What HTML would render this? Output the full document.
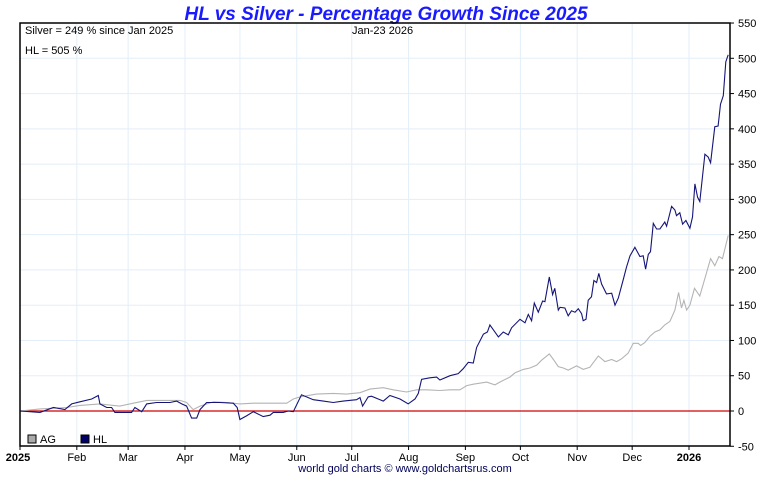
<!DOCTYPE html>
<html><head><meta charset="utf-8"><style>
body{margin:0;background:#fff;font-family:"Liberation Sans",sans-serif}
svg text{font-family:"Liberation Sans",sans-serif}
</style></head><body>
<svg id="c" width="772" height="475" xmlns="http://www.w3.org/2000/svg">
<rect width="772" height="475" fill="#fff"/>
<text x="386" y="20" text-anchor="middle" font-size="19" font-weight="bold" font-style="italic" fill="#1a1aff">HL vs Silver - Percentage Growth Since 2025</text>
<g id="grid"></g><g id="series"></g>
<rect x="20" y="23" width="710" height="423" fill="none" stroke="#000" stroke-width="1.5"/>
<text x="25" y="34" font-size="11">Silver = 249 % since Jan 2025</text>
<text x="352" y="34" font-size="11">Jan-23  2026</text>
<text x="25" y="54" font-size="11">HL = 505 %</text>
<rect x="28" y="435" width="8" height="8" fill="#aaa" stroke="#000"/>
<text x="40" y="443" font-size="11">AG</text>
<rect x="81" y="435" width="8" height="8" fill="#000066" stroke="#000"/>
<text x="93" y="443" font-size="11">HL</text>
<text x="405" y="472" text-anchor="middle" font-size="11" fill="#00005a">world gold charts © www.goldchartsrus.com</text>
</svg>
<script>
const monthLabels=["2025","Feb","Mar","Apr","May","Jun","Jul","Aug","Sep","Oct","Nov","Dec","2026"];
const monthDays=[0,31,59,90,120,151,181,212,243,273,304,334,365];
const yTicks=[-50,0,50,100,150,200,250,300,350,400,450,500,550];
const hlDays=[0,10.9,18.2,24.5,28.2,32.7,39.1,42.7,43.6,47.3,50,51.8,56.4,60.9,62.7,66.4,69.1,74.5,81.8,85.5,88.2,90.9,93.6,96.4,98.2,101.8,109.1,116.4,118.5,120,123.6,127.3,132.7,136.4,138.2,143.6,146.4,149.1,153.6,160,165.5,170.9,176.4,183.6,185.5,186.9,190,191.8,198.2,201.8,207.3,211.8,215.5,217.3,219.1,223.6,227.3,229.1,234.6,239.1,241.8,244.6,247.3,249.1,252.8,255,256.4,261,263.7,266.4,268.2,272.8,275.5,277.3,279.1,280.6,282.8,285.1,286.4,288.8,290.6,291.8,293.7,294.6,297.3,299.1,300.9,302.8,304.6,306.4,307.3,308.8,310,311.8,313.1,314.6,315.8,317.3,320,322.8,324.6,326.4,329.1,330.9,332.8,335.5,338.2,340,341.3,342.8,344,345.5,347.3,349.1,351.8,352.8,355.5,357.3,358.2,360,361.5,363.3,365.5,366.9,368.2,369.7,370.9,373.7,375.5,376.8,379.1,380.9,382.2,383.7,385.1,386.4];
const hlVals=[0,-2,5,2,10,13,17,22,10,5,5,-2,-2,-2,5,-1,10,12,12,14,10,7,-10,-10,2,12,12,11,5,-12,-7,-1,-8,-6,-2,-2,0,-1,23,16,14,12,14,16,19,7,20,21,14,22,17,10,17,25,45,47,48,44,50,53,60,69,68,90,109,112,122,105,112,108,118,130,125,137,128,153,140,156,155,190,165,174,143,147,146,135,142,140,145,138,128,130,157,162,185,182,195,180,166,167,150,160,186,204,220,232,219,220,201,222,226,266,258,258,268,262,290,285,277,281,265,270,259,275,322,303,297,364,360,352,403,404,435,447,495,505];
const agDays=[0,10.9,25.5,32.7,43.6,50.9,54.5,61.8,69.1,80,87.3,90.9,94.5,98.2,105.5,112.7,120,127.3,134.5,145.5,149.1,152.7,161.8,170.9,178.2,185.5,190.9,198.2,203.6,210.9,216.4,221.8,229.1,234.6,240,243.7,247.3,254.6,259.1,261.8,267.3,270,274.6,278.2,281.9,284.6,288.8,291,293.7,296.4,299.1,303.7,307.3,310.9,315.5,319.1,322.8,325.5,328.2,331.8,334.6,337.3,338.6,340.9,343.7,346.4,349.1,351.8,354.6,357.3,359.3,360.9,362.2,363.7,365.5,368,370.9,373.7,376.8,379.1,381.3,383.3,386.4];
const agVals=[0,3,5,8,10,8,7,11,15,15,15,12,2,7,13,12,10,11,11,11,17,20,24,25,24,26,31,33,30,27,30,30,29,30,30,36,38,41,37,41,48,54,59,61,65,72,81,73,63,61,58,64,59,62,78,70,73,70,74,82,96,96,93,97,106,112,115,122,127,143,168,146,157,143,150,174,163,188,216,206,219,216,249];
const NS="http://www.w3.org/2000/svg";
const xS=d=>20+d*(689-20)/365;
const yS=v=>411-v*35.27/50;
function mk(t,a,p){const e=document.createElementNS(NS,t);for(const k in a)e.setAttribute(k,a[k]);p.appendChild(e);return e;}
const g=document.getElementById('grid'),s=document.getElementById('series');
monthDays.forEach((d,i)=>{
 const x=xS(d);
 const l=mk('line',{x1:x,x2:x,y1:23,y2:446,stroke:'#e3eef8'},g);
 
 
 const tk=mk('line',{x1:x,x2:x,y1:446,y2:450,stroke:'#000'},g);
 
 
 const t=mk('text',{x:x,y:461,'text-anchor':'middle','font-size':11},g);
 if(i===0||i===12)t.setAttribute('font-weight','bold');
 if(i===0)t.setAttribute('x',x-2);
 t.textContent=monthLabels[i];
 
 
});
yTicks.forEach(v=>{
 const y=yS(v);
 if(v>-50&&v<550){const l=mk('line',{x1:20,x2:730,y1:y,y2:y,stroke:'#e3eef8'},g);
 
 }
 const tk=mk('line',{x1:730,x2:734,y1:y,y2:y,stroke:'#000'},g);
 
 
 const t=mk('text',{x:738,y:y+4,'font-size':11},g);
 t.textContent=v;
 
 
});
const z=mk('line',{x1:20,x2:730,y1:yS(0),y2:yS(0),stroke:'#d00000','stroke-width':1.2},g);


function path(ds,vs,col,name){
 const p=mk('polyline',{points:ds.map((d,i)=>xS(d).toFixed(1)+','+yS(vs[i]).toFixed(1)).join(' '),fill:'none',stroke:col,'stroke-width':1.1},s);
 
 
}
path(agDays,agVals,'#b4b4b4','ag-line');
path(hlDays,hlVals,'#141478','hl-line');
</script>
</body></html>
